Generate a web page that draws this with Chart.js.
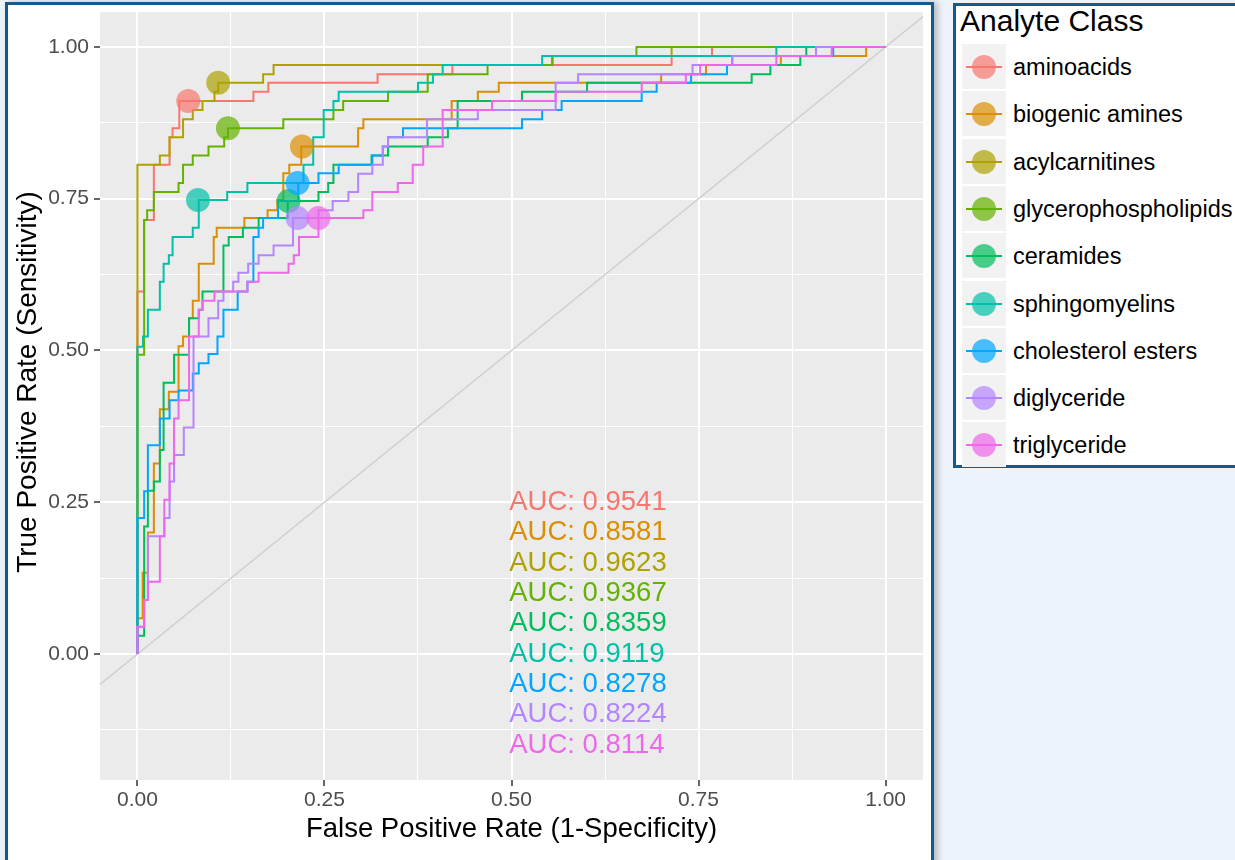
<!DOCTYPE html>
<html>
<head>
<meta charset="utf-8">
<script src="https://cdn.jsdelivr.net/npm/chart.js@4"></script>
<style>
  body { margin: 0; width: 1235px; height: 860px; overflow: hidden; position: relative; background: #edf3fb; font-family: "Liberation Sans", Arial, sans-serif; }
  #frame { position: absolute; left: 5px; top: 2px; width: 923px; height: 860px; border: 3px solid #155a8a; background: #fff; box-shadow: 4px 0 6px rgba(0,0,0,0.22); }
  #roc { position: absolute; left: 0; top: 0; }
  #legend { position: absolute; left: 953px; top: 3px; width: 300px; height: 459px; border: 3px solid #155a8a; background: #fff; }
  #legend .title { position: absolute; left: 4px; top: -3px; font-size: 30px; line-height: 36px; color: #000; }
  #legend .row { position: absolute; left: 6px; height: 47px; width: 290px; }
  #legend .key { position: absolute; left: 0; top: 1px; width: 44px; height: 45px; background: #f2f2f2; }
  #legend .key .ln { position: absolute; left: 4px; width: 36px; top: 22px; height: 2px; }
  #legend .key .dot { position: absolute; left: 10px; top: 11px; width: 24px; height: 24px; border-radius: 50%; }
  #legend .lab { position: absolute; left: 51px; top: 1px; line-height: 47px; font-size: 23.5px; color: #000; white-space: nowrap; }
</style>
</head>
<body>
<div id="frame"></div>
<div id="legend"><div class="title">Analyte Class</div></div>
<canvas id="roc" width="935" height="860"></canvas>
<script>
// ROC curves, each point = [fpr, tpr] where the curve rises to tpr at that fpr
const aminoacids = [[0,0],[0,0.597],[0.009,0.715],[0.022,0.806],[0.043,0.851],[0.047,0.866],[0.056,0.911],[0.155,0.926],[0.175,0.941],[0.321,0.955],[0.421,0.970],[0.714,0.985],[0.768,1],[1,1]];
const biogenicAmines = [[0,0],[0,0.059],[0.007,0.134],[0.014,0.20],[0.022,0.314],[0.030,0.403],[0.042,0.432],[0.055,0.507],[0.061,0.523],[0.069,0.553],[0.074,0.582],[0.082,0.643],[0.102,0.687],[0.106,0.702],[0.143,0.718],[0.174,0.731],[0.187,0.748],[0.195,0.792],[0.203,0.806],[0.219,0.836],[0.295,0.866],[0.302,0.881],[0.42,0.911],[0.455,0.926],[0.483,0.941],[0.700,0.955],[0.760,0.970],[0.860,0.985],[0.974,1],[1,1]];
const acylcarnitines = [[0,0],[0,0.806],[0.030,0.821],[0.043,0.851],[0.061,0.881],[0.074,0.896],[0.087,0.911],[0.103,0.926],[0.108,0.941],[0.168,0.955],[0.182,0.970],[0.554,0.985],[0.714,1],[1,1]];
const glycerophospholipids = [[0,0],[0,0.493],[0.009,0.715],[0.013,0.731],[0.022,0.761],[0.055,0.776],[0.061,0.806],[0.074,0.821],[0.095,0.836],[0.116,0.851],[0.121,0.866],[0.195,0.881],[0.262,0.896],[0.275,0.911],[0.335,0.926],[0.388,0.955],[0.468,0.970],[0.555,0.985],[0.667,1],[1,1]];
const ceramides = [[0,0],[0,0.030],[0.009,0.21],[0.014,0.269],[0.022,0.284],[0.030,0.336],[0.035,0.447],[0.049,0.493],[0.069,0.553],[0.082,0.567],[0.087,0.597],[0.115,0.673],[0.122,0.687],[0.141,0.702],[0.162,0.718],[0.201,0.746],[0.242,0.761],[0.255,0.776],[0.262,0.806],[0.313,0.821],[0.335,0.836],[0.388,0.851],[0.415,0.866],[0.428,0.911],[0.514,0.926],[0.601,0.941],[0.821,0.955],[0.846,0.970],[0.886,0.985],[0.894,1],[1,1]];
const sphingomyelins = [[0,0],[0,0.506],[0.0075,0.523],[0.014,0.567],[0.030,0.613],[0.035,0.643],[0.042,0.657],[0.047,0.687],[0.074,0.702],[0.082,0.748],[0.120,0.761],[0.147,0.776],[0.222,0.806],[0.235,0.851],[0.249,0.896],[0.262,0.911],[0.269,0.926],[0.375,0.941],[0.395,0.955],[0.408,0.970],[0.541,0.985],[0.854,1],[1,1]];
const cholesterolEsters = [[0,0],[0,0.224],[0.009,0.268],[0.014,0.344],[0.030,0.388],[0.043,0.418],[0.055,0.434],[0.074,0.462],[0.082,0.479],[0.095,0.494],[0.107,0.523],[0.115,0.567],[0.134,0.597],[0.147,0.613],[0.155,0.687],[0.162,0.702],[0.168,0.718],[0.188,0.746],[0.215,0.776],[0.242,0.792],[0.269,0.806],[0.314,0.821],[0.328,0.836],[0.335,0.851],[0.355,0.866],[0.514,0.881],[0.541,0.896],[0.567,0.911],[0.674,0.926],[0.694,0.941],[0.740,0.955],[0.788,0.970],[0.795,0.985],[0.930,1],[1,1]];
const diglyceride = [[0,0],[0,0.045],[0.009,0.089],[0.014,0.194],[0.036,0.224],[0.043,0.284],[0.049,0.328],[0.062,0.373],[0.075,0.523],[0.095,0.553],[0.108,0.582],[0.115,0.597],[0.128,0.613],[0.135,0.628],[0.148,0.643],[0.162,0.657],[0.182,0.673],[0.208,0.718],[0.242,0.731],[0.261,0.746],[0.282,0.761],[0.295,0.791],[0.314,0.806],[0.328,0.836],[0.335,0.851],[0.387,0.881],[0.455,0.896],[0.559,0.941],[0.589,0.955],[0.742,0.970],[0.795,0.985],[0.907,1],[1,1]];
const triglyceride = [[0,0],[0,0.045],[0.009,0.089],[0.014,0.119],[0.030,0.194],[0.036,0.254],[0.043,0.314],[0.049,0.388],[0.055,0.418],[0.069,0.523],[0.082,0.567],[0.087,0.582],[0.103,0.597],[0.147,0.613],[0.162,0.628],[0.202,0.643],[0.209,0.657],[0.216,0.687],[0.242,0.718],[0.302,0.731],[0.314,0.761],[0.348,0.776],[0.368,0.806],[0.382,0.836],[0.408,0.896],[0.474,0.911],[0.559,0.926],[0.674,0.941],[0.733,0.955],[0.752,0.970],[0.854,0.985],[0.928,1],[1,1]];

const classNames = ["aminoacids", "biogenic amines", "acylcarnitines", "glycerophospholipids", "ceramides", "sphingomyelins", "cholesterol esters", "diglyceride", "triglyceride"];
const classColors = ["#F8766D", "#DB8E00", "#AEA200", "#64B200", "#00BD5C", "#00C1A7", "#00A6FF", "#B385FF", "#EF67EB"];
const rocCurves = [aminoacids, biogenicAmines, acylcarnitines, glycerophospholipids, ceramides, sphingomyelins, cholesterolEsters, diglyceride, triglyceride];

// best cut-off points
const cutoffFpr = [0.068, 0.220, 0.108, 0.121, 0.202, 0.081, 0.214, 0.214, 0.242];
const cutoffTpr = [0.911, 0.836, 0.941, 0.866, 0.746, 0.748, 0.776, 0.718, 0.718];

// AUC annotations
const aucLabels = ["0.9541", "0.8581", "0.9623", "0.9367", "0.8359", "0.9119", "0.8278", "0.8224", "0.8114"];
const aucX = 0.497;
const aucY = [0.25, 0.2, 0.15, 0.1, 0.05, 0, -0.05, -0.1, -0.15];

const xRange = [-0.05, 1.05];
const yRange = [-0.2075, 1.0575];
const xMajor = [0, 0.25, 0.5, 0.75, 1];
const xMinor = [0.125, 0.375, 0.625, 0.875];
const yMajor = [0, 0.25, 0.5, 0.75, 1];
const yMinor = [-0.125, 0.125, 0.375, 0.625, 0.875];
const diagonal = [-0.05, 1.05];
const xTitle = "False Positive Rate (1-Specificity)";
const yTitle = "True Positive Rate (Sensitivity)";

const FONT = "'Liberation Sans', Arial, sans-serif";

function withAlpha(hex, a) {
  const n = parseInt(hex.slice(1), 16);
  return "rgba(" + (n >> 16) + "," + ((n >> 8) & 255) + "," + (n & 255) + "," + a + ")";
}

// html legend
const legendEl = document.getElementById("legend");
classNames.forEach((name, i) => {
  const row = document.createElement("div");
  row.className = "row";
  row.style.top = (37 + i * 47.3) + "px";
  row.innerHTML =
    '<div class="key"><div class="ln" style="background:' + classColors[i] + '"></div>' +
    '<div class="dot" style="background:' + withAlpha(classColors[i], 0.7) + '"></div></div>' +
    '<div class="lab">' + name + "</div>";
  legendEl.appendChild(row);
});

const panelBackground = {
  id: "panelBackground",
  beforeDraw(chart) {
    const { ctx, chartArea } = chart;
    ctx.save();
    ctx.fillStyle = "#EBEBEB";
    ctx.fillRect(chartArea.left, chartArea.top, chartArea.right - chartArea.left, chartArea.bottom - chartArea.top);
    ctx.restore();
  },
};

const aucText = {
  id: "aucText",
  afterDatasetsDraw(chart) {
    const { ctx, scales } = chart;
    ctx.save();
    ctx.font = "27.5px " + FONT;
    ctx.textAlign = "left";
    ctx.textBaseline = "middle";
    aucLabels.forEach((v, i) => {
      ctx.fillStyle = classColors[i];
      ctx.fillText("AUC: " + v, scales.x.getPixelForValue(aucX), scales.y.getPixelForValue(aucY[i]));
    });
    ctx.restore();
  },
};

// y title sits a little above the panel centre in the original
const yTitlePlugin = {
  id: "yTitlePlugin",
  afterDraw(chart) {
    const ctx = chart.ctx;
    ctx.save();
    ctx.translate(28, 382);
    ctx.rotate(-Math.PI / 2);
    ctx.font = "28px " + FONT;
    ctx.fillStyle = "#000";
    ctx.textAlign = "center";
    ctx.textBaseline = "middle";
    ctx.fillText(yTitle, 0, 0);
    ctx.restore();
  },
};

const datasets = [];
datasets.push({
  data: diagonal.map((v) => ({ x: v, y: v })),
  showLine: true,
  borderColor: "#cfcfcf",
  borderWidth: 1.5,
  pointRadius: 0,
  order: 40,
});
rocCurves.forEach((curve, i) => {
  datasets.push({
    label: classNames[i],
    data: curve.map((p) => ({ x: p[0], y: p[1] })),
    showLine: true,
    stepped: "before",
    borderColor: classColors[i],
    borderWidth: 2,
    pointRadius: 0,
    order: 30 - i,
  });
});
datasets.push({
  label: "cutoff",
  data: cutoffFpr.map((x, i) => ({ x: x, y: cutoffTpr[i] })),
  showLine: false,
  pointRadius: 12,
  pointBorderWidth: 0,
  pointBackgroundColor: classColors.map((c) => withAlpha(c, 0.7)),
  pointBorderColor: "rgba(0,0,0,0)",
  order: 0,
});

function tickSetter(major, minor) {
  return function (scale) {
    scale.ticks = major.concat(minor).sort((a, b) => a - b).map((v) => ({ value: v }));
  };
}

function fixSize(prop, size) {
  return function (scale) {
    scale[prop] = size;
    scale.paddingTop = 0;
    scale.paddingBottom = 0;
    scale.paddingLeft = 0;
    scale.paddingRight = 0;
  };
}

function gridStyle(major) {
  return {
    color: "#ffffff",
    lineWidth: (c) => (c.tick && major.includes(c.tick.value) ? 2 : 1),
    drawTicks: true,
    tickLength: 6,
    tickColor: (c) => (c.tick && major.includes(c.tick.value) ? "#333333" : "rgba(0,0,0,0)"),
    tickWidth: 1.5,
  };
}

new Chart(document.getElementById("roc"), {
  type: "scatter",
  data: { datasets: datasets },
  plugins: [panelBackground, aucText, yTitlePlugin],
  options: {
    responsive: false,
    animation: false,
    events: [],
    layout: { padding: { left: 0, top: 12, right: 4, bottom: 0 } },
    plugins: {
      legend: { display: false },
      tooltip: { enabled: false },
    },
    scales: {
      x: {
        type: "linear",
        min: xRange[0],
        max: xRange[1],
        afterBuildTicks: tickSetter(xMajor, xMinor),
        afterFit: fixSize("height", 80),
        grid: gridStyle(xMajor),
        border: { display: false },
        ticks: {
          autoSkip: false,
          maxRotation: 0,
          padding: 2,
          color: "#4D4D4D",
          font: { size: 21, family: FONT },
          callback: (v) => (xMajor.includes(v) ? v.toFixed(2) : ""),
        },
        title: {
          display: true,
          text: xTitle,
          color: "#000",
          font: { size: 27.5, family: FONT },
          padding: { top: 0, bottom: 14 },
        },
      },
      y: {
        type: "linear",
        min: yRange[0],
        max: yRange[1],
        afterBuildTicks: tickSetter(yMajor, yMinor),
        afterFit: fixSize("width", 100),
        grid: gridStyle(yMajor),
        border: { display: false },
        ticks: {
          autoSkip: false,
          padding: 5,
          color: "#4D4D4D",
          font: { size: 21, family: FONT },
          callback: (v) => (yMajor.includes(v) ? v.toFixed(2) : ""),
        },
        title: { display: false },
      },
    },
  },
});
</script>
</body>
</html>
